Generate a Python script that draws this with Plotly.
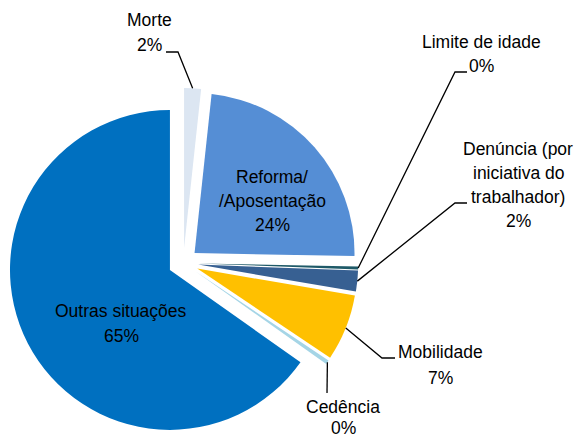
import math
import plotly.graph_objects as go

# ---- data ----
categories = ["Morte", "Reforma/Aposentação", "Limite de idade",
              "Denúncia (por iniciativa do trabalhador)", "Mobilidade",
              "Cedência", "Outras situações"]
label_lines = [["Morte"], ["Reforma/", "/Aposentação"], ["Limite de idade"],
               ["Denúncia (por", "iniciativa do", "trabalhador)"], ["Mobilidade"],
               ["Cedência"], ["Outras situações"]]
values = [1.7, 23.6, 0.3, 2.1, 6.7, 0.4, 65.2]
colors = ["#DCE6F2", "#558ED5", "#1F5A68", "#376092", "#FFC000", "#A5D5E6", "#0070C0"]

# ---- layout geometry ----
W, H = 576, 438
PULL = 0.094
dom_x = [0.0144, 0.6220]
dom_y = [0.0, 0.799]
FONT = "Liberation Sans, Arial, sans-serif"
FS = 17.5

fig = go.Figure(go.Pie(
    labels=categories, values=values, sort=False, direction="clockwise",
    rotation=0, pull=[PULL] * len(values),
    marker=dict(colors=colors, line=dict(width=0)),
    textinfo="none", hoverinfo="label+percent", showlegend=False,
    domain=dict(x=dom_x, y=dom_y),
))

# pie geometry as plotly computes it (pixels)
pbw = W * (dom_x[1] - dom_x[0])
pbh = H * (dom_y[1] - dom_y[0])
R = min(pbw, pbh) / 2 / (1 + PULL)
CX = W * (dom_x[0] + dom_x[1]) / 2
CY = H * (1 - dom_y[0]) - pbh / 2

total = sum(values)
mids = []
acc = 0.0
for v in values:
    a0 = acc / total * 360
    acc += v
    a1 = acc / total * 360
    mids.append(math.radians((a0 + a1) / 2))


def tip(i):
    m = mids[i]
    vx = CX + PULL * R * math.sin(m)
    vy = CY - PULL * R * math.cos(m)
    return vx + R * math.sin(m), vy - R * math.cos(m)


def px(x):
    return x / W


def py(y):
    return 1 - y / H


pct = [f"{round(v / total * 100)}%" for v in values]

# label placement: centre x and y of each line (pixels)
label_pos = {
    0: (149.5, [20, 45]),
    1: (272, [176.5, 200.5, 225]),
    2: (481, [41.5, 66]),
    3: (518, [149, 173, 197, 221]),
    4: (440, [352, 378]),
    5: (343, [407, 428]),
    6: (121, [310.5, 335.5]),
}
leaders = {
    0: [(178, 52), (166, 52)],
    2: [(455, 72), (467, 72)],
    3: [(455, 203), (467, 203)],
    4: [(382, 358), (395, 358)],
    5: [(327, 393)],
}

annotations = []
for i, (x, ys) in label_pos.items():
    lines = label_lines[i] + [pct[i]]
    for txt, y in zip(lines, ys):
        annotations.append(dict(
            x=px(x), y=py(y), xref="paper", yref="paper",
            text=txt, showarrow=False,
            xanchor="center", yanchor="middle", align="center",
            font=dict(family=FONT, size=FS, color="#000000"),
        ))

shapes = []
for i, pts in leaders.items():
    tx, ty = tip(i)
    path = f"M{px(tx)},{py(ty)}" + "".join(f" L{px(a)},{py(b)}" for a, b in pts)
    shapes.append(dict(type="path", path=path, xref="paper", yref="paper",
                       line=dict(color="#000000", width=1.3)))

fig.update_layout(
    width=W, height=H, margin=dict(l=0, r=0, t=0, b=0),
    paper_bgcolor="white", plot_bgcolor="white",
    annotations=annotations, shapes=shapes,
    font=dict(family=FONT, size=FS),
)

fig.write_html("out.html", config={"displayModeBar": False},
               post_script="document.body.style.margin='0';document.body.style.overflow='hidden';")
